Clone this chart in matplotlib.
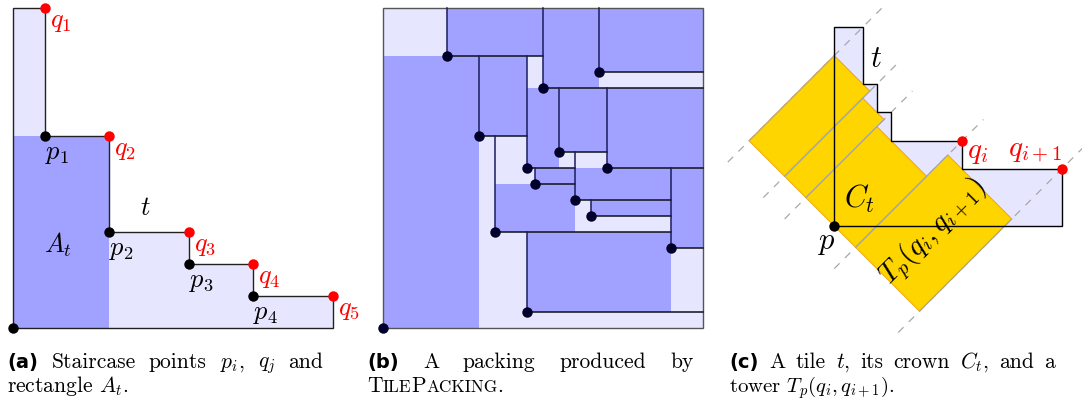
import matplotlib.pyplot as plt
from matplotlib.patches import Polygon, Rectangle

plt.rcParams['mathtext.fontset'] = 'cm'
plt.rcParams['font.family'] = 'cmr10'
plt.rcParams['axes.formatter.use_mathtext'] = True

W, H = 1082, 405
LIGHT = '#e6e6ff'
DARK = '#a1a1ff'
GOLD = '#ffd500'
RED = '#ff0000'

# ---- (a) staircase of a tile: outer corners q_j, inner corners p_i
qa_x = [1, 3, 5.5, 7.5, 10]
qa_y = [10, 6, 3, 2, 1]
at_w, at_h = 3, 6          # rectangle A_t

# ---- (b) packing: corner of each tile, its L-lines and its A rectangle
bx = [0, 2, 3, 5, 6.75, 4.5, 5.5, 7, 4.75, 6, 6.5, 3.5, 9, 4.5]
by = [0, 8.5, 6, 7.5, 8, 5, 5.5, 5, 4.5, 4, 3.5, 3, 2.5, 0.5]
btop = [10, 10, 8.5, 10, 10, 8.5, 7.5, 7.5, 5, 5.5, 4, 6, 5, 3]
bright = [10, 5, 4.5, 10, 10, 6, 7, 10, 6, 9, 9, 9, 10, 10]
bdw = [3, 3, 1.5, 1.75, 3.25, 1, 1.5, 3, 1.25, 3, 2.5, 2.5, 1, 4.5]
bdh = [8.5, 1.5, 2.5, 2.5, 2, 2.5, 2, 2.5, 0.5, 1, 0.5, 1.5, 2.5, 2.5]

# ---- (c) tile t with crown and tower
qc_x = [1, 1.5, 2, 4.5, 8]
qc_y = [7, 5, 4, 3, 2]


def stair(qx, qy):
    pts = [(0, 0), (0, qy[0])]
    for k in range(len(qx)):
        pts.append((qx[k], qy[k]))
        if k + 1 < len(qx):
            pts.append((qx[k], qy[k + 1]))
    pts.append((qx[-1], 0))
    return pts


def panel(ox, oy, unit, x0, x1, y0, y1):
    # ox, oy = pixel position of the unit origin (y measured from top)
    left = (ox + x0 * unit) / W
    right = (ox + x1 * unit) / W
    top = 1 - (oy - y1 * unit) / H
    bottom = 1 - (oy - y0 * unit) / H
    ax = fig.add_axes([left, bottom, right - left, top - bottom])
    ax.set_xlim(x0, x1)
    ax.set_ylim(y0, y1)
    ax.axis('off')
    return ax


def sd(s, d):
    return ((s - d) / 2, (s + d) / 2)


fig = plt.figure(figsize=(W / 100, H / 100), dpi=100)
MS = 7.5

# ------------------------------------------------------------------ (a)
ax = panel(13.3, 328, 32, -0.45, 11.3, -0.4, 10.25)
pts = stair(qa_x, qa_y)
ax.add_patch(Polygon(pts, closed=True, fc=LIGHT, ec='none', zorder=1))
ax.add_patch(Rectangle((0, 0), at_w, at_h, fc=DARK, ec='none', zorder=2))
ax.add_patch(Polygon(pts, closed=True, fc='none', ec='#222222', lw=1.0, zorder=3))
pa_x = qa_x[:-1]
pa_y = qa_y[1:]
ax.plot(pa_x + [0], pa_y + [0], 'o', color='black', ms=MS, mec='none', zorder=5)
ax.plot(qa_x, qa_y, 'o', color=RED, ms=MS, mec='none', zorder=5)
LA = 19
for k in range(len(qa_x)):
    ax.annotate('$q_{%d}$' % (k + 1), (qa_x[k], qa_y[k]), xytext=(5, -14),
                textcoords='offset pixels', color=RED, fontsize=LA,
                ha='left', va='center')
for k in range(len(pa_x)):
    ax.annotate('$p_{%d}$' % (k + 1), (pa_x[k], pa_y[k]), xytext=(0, -18),
                textcoords='offset pixels', color='black', fontsize=LA,
                ha='left', va='center')
ax.text(4.12, 3.75, '$t$', fontsize=LA, ha='center', va='center')
ax.text(1.4, 2.6, '$A_t$', fontsize=LA, ha='center', va='center')

# ------------------------------------------------------------------ (b)
ax = panel(383.3, 328.3, 32, -0.4, 10.4, -0.4, 10.25)
ax.add_patch(Rectangle((0, 0), 10, 10, fc=LIGHT, ec='none', zorder=1))
for i in range(len(bx)):
    ax.add_patch(Rectangle((bx[i], by[i]), bdw[i], bdh[i], fc=DARK, ec='none', zorder=2))
ax.add_patch(Rectangle((0, 0), 10, 10, fc='none', ec='#555555', lw=1.0, zorder=3))
for i in range(1, len(bx)):
    ax.plot([bx[i], bx[i]], [by[i], btop[i]], color='#1c1c5e', lw=1.1, zorder=4)
    ax.plot([bx[i], bright[i]], [by[i], by[i]], color='#111118', lw=1.1, zorder=4)
ax.plot(bx, by, 'o', color='#00002a', ms=MS, mec='none', zorder=5)

# ------------------------------------------------------------------ (c)
ax = panel(834.3, 226, 28.4, -4.05, 8.75, -4.0, 7.96)
pts = stair(qc_x, qc_y)
ax.add_patch(Polygon(pts, closed=True, fc=LIGHT, ec='none', zorder=1))
dvals = [y - x for x, y in zip(qc_x, qc_y)]
svals = [y + x for x, y in zip(qc_x, qc_y)]
for d, s in zip(dvals, svals):
    a, b = sd(-1.5, d), sd(s + 1.5, d)
    ax.plot([a[0], b[0]], [a[1], b[1]], color='#a8a8a8', lw=0.9,
            ls=(0, (6, 6)), zorder=2)
for k in range(len(qc_x) - 1):
    s_hi = qc_x[k] + qc_y[k + 1]          # inner corner between q_k and q_k+1
    d_hi, d_lo = dvals[k], dvals[k + 1]
    corners = [sd(0, d_lo), sd(0, d_hi), sd(s_hi, d_hi), sd(s_hi, d_lo)]
    ax.add_patch(Polygon(corners, closed=True, fc=GOLD, ec='#f2a20c', lw=0.7, zorder=3))
    for d in (d_hi, d_lo):
        a, b = sd(0, d), sd(s_hi, d)
        ax.plot([a[0], b[0]], [a[1], b[1]], color='#a8a8a8', lw=0.8, zorder=3.5)
ax.add_patch(Polygon(pts, closed=True, fc='none', ec='black', lw=1.0, zorder=4))
ax.plot([0], [0], 'o', color='black', ms=MS, mec='none', zorder=5)
ax.plot(qc_x[-2:], qc_y[-2:], 'o', color=RED, ms=MS, mec='none', zorder=5)
LC = 22
ax.text(1.47, 5.87, '$t$', fontsize=LC, ha='center', va='center')
ax.text(0.9, 0.95, '$C_t$', fontsize=LC, ha='center', va='center')
ax.text(-0.29, -0.62, '$p$', fontsize=LC, ha='center', va='center')
ax.annotate('$q_i$', (qc_x[-2], qc_y[-2]), xytext=(5, -12), textcoords='offset pixels',
            color=RED, fontsize=21, ha='left', va='center')
ax.text(6.1, 2.62, '$q_{i+1}$', color=RED, fontsize=21, ha='left', va='center')
ax.text(3.48, -0.21, '$T_p(q_i, q_{i+1})$', fontsize=20.5, rotation=45,
        rotation_mode='anchor', ha='center', va='center', zorder=6)

# ------------------------------------------------------------------ captions
r = fig.canvas.get_renderer()
CAP = 15.5
BOLD = dict(family='DejaVu Sans', weight='bold', fontsize=14)
TXT = dict(fontsize=CAP)


def justify(y, x0, x1, words):
    objs = [fig.text(0, 1 - y / H, t, ha='left', va='baseline', **kw) for t, kw in words]
    ws = [o.get_window_extent(r).width for o in objs]
    gap = max(5.5, (x1 - x0 - sum(ws)) / (len(objs) - 1))
    x = x0
    for o, w in zip(objs, ws):
        o.set_x(x / W)
        x += w + gap


def pieces(y, x0, items):
    x = x0
    for t, kw in items:
        o = fig.text(x / W, 1 - y / H, t, ha='left', va='baseline', **kw)
        x += o.get_window_extent(r).width


y1, y2 = 367.6, 392.0
justify(y1, 7.3, 323.3, [('(a)', BOLD), ('Staircase', TXT), ('points', TXT),
                          ('$p_i$,', TXT), ('$q_j$', TXT), ('and', TXT)])
fig.text(7.3 / W, 1 - y2 / H, 'rectangle $A_t$.', ha='left', va='baseline', **TXT)

justify(y1, 367.3, 693.3, [('(b)', BOLD), ('A', TXT), ('packing', TXT),
                            ('produced', TXT), ('by', TXT)])
SC = dict(fontsize=CAP * 0.8)
pieces(y2, 367.3, [('T', TXT), ('ILE', SC), ('P', TXT), ('ACKING', SC), ('.', TXT)])

justify(y1, 729.3, 1055, [('(c)', BOLD), ('A', TXT), ('tile', TXT), ('$t$,', TXT),
                           ('its', TXT), ('crown', TXT), ('$C_t$,', TXT),
                           ('and', TXT), ('a', TXT)])
fig.text(729.3 / W, 1 - y2 / H, 'tower $T_p(q_i, q_{i+1})$.', ha='left',
         va='baseline', fontsize=CAP - 0.5)

fig.savefig('out.png', dpi=100)
